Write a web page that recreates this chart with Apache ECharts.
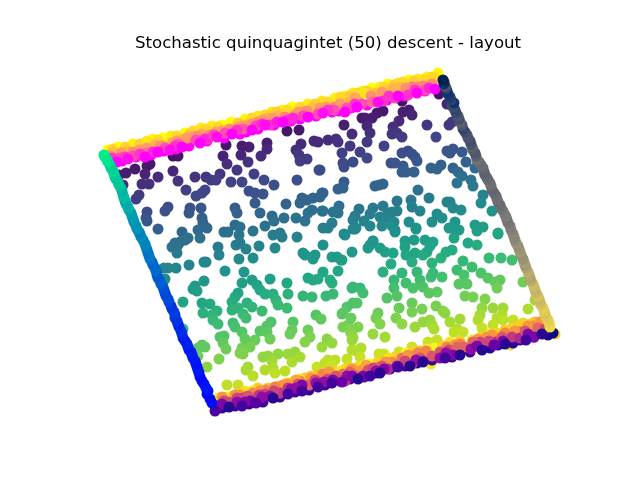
<!DOCTYPE html>
<html><head><meta charset="utf-8">
<script src="https://cdn.jsdelivr.net/npm/echarts@6/dist/echarts.min.js"></script>
<style>html,body{margin:0;padding:0;background:#fff}#c{width:640px;height:480px}</style>
</head><body><div id="c"></div>
<script>
const titleText = "Stochastic quinquagintet (50) descent - layout";
const interior = [[226,145],[242,146],[249,147],[267,143],[267,149],[261,156],[223,156],[241,155],[227,164],[248,162],[287,131],[299,130],[301,144],[296,150],[299,155],[307,159],[300,161],[314,141],[318,142],[328,140],
[173,156],[178,156],[147,166],[150,164],[135,169],[126,173],[119,175],[145,174],[158,177],[173,171],[195,177],[206,177],[220,174],[211,180],[216,180],[237,170],[254,174],[231,182],[242,182],[264,180],[274,185],[297,180],[319,170],[123,185],[142,184],[149,184],[178,181],[186,190],[196,196],[202,193],[205,190],[139,195],[136,199],[249,191],[255,193],[263,194],[255,203],[286,204],[302,198],[300,203],[313,198],[322,193],[307,200],
[168,207],[165,211],[147,212],[146,218],[147,221],[190,208],[189,213],[201,208],[235,208],[237,213],[260,213],[158,229],[202,218],[203,223],[207,228],[182,232],[198,230],[200,238],[188,238],[180,242],[175,243],[224,232],[228,232],[235,225],[240,227],[239,235],[253,231],[265,226],[272,216],[274,221],[284,218],[296,218],[305,221],[312,210],[308,213],[322,211],[273,235],[280,233],[282,237],[297,237],
[402,101],[439,94],[447,104],[383,111],[377,113],[403,112],[409,110],[412,115],[372,118],[362,118],[365,118],[367,126],[399,121],[393,127],[344,125],[427,125],[449,125],[452,122],[352,134],[370,133],[392,134],[397,133],[402,137],[436,137],[336,139],[338,142],[367,142],[350,146],[384,146],[342,153],[360,152],[402,153],[408,151],[412,154],[415,157],[417,161],[447,151],[453,149],[450,153],[462,152],[367,158],[353,162],[466,162],[343,163],[344,167],[391,163],[395,163],[403,166],[402,172],[406,172],[414,172],[431,168],[437,169],[441,165],[453,168],[458,172],[462,176],[475,168],[320,170],[471,180],[457,183],[473,186],[344,182],[338,189],[343,188],[375,186],[379,185],[383,184],[418,190],[323,193],[320,197],[429,198],[397,201],[411,200],[412,207],[447,202],[450,202],[483,195],[481,203],[339,206],[323,211],[338,213],[333,212],[359,209],[373,208],[383,206],[397,211],[420,211],[453,208],[461,210],[355,216],[370,214],[364,221],[370,226],[353,220],[332,223],[328,228],[323,228],[353,229],[356,228],[380,217],[388,213],[392,212],[387,218],[394,222],[382,226],[392,226],[395,232],[409,222],[416,228],[432,222],[437,214],[442,218],[455,222],[449,228],[459,230],[454,238],[475,225],[483,227],[477,231],[498,234],[492,211],[344,234],[373,241],[370,245],[405,241],[414,240],[425,240],[433,242],[468,243],[477,245],
[172,247],[178,245],[185,240],[177,253],[218,247],[219,255],[236,245],[240,243],[246,249],[259,246],[275,248],[239,259],[253,258],[303,253],[305,255],[315,255],[313,259],[323,245],[332,257],[337,257],[341,260],[352,252],[189,265],[204,262],[206,262],[164,268],[168,268],[176,268],[225,271],[244,272],[323,272],[338,271],[270,279],[308,278],[313,280],[318,279],[165,279],[204,281],[195,286],[193,289],[197,291],[242,283],[252,280],[257,285],[260,290],[265,294],[273,294],[287,283],[288,294],[332,283],[330,280],[352,288],[303,296],[312,297],[326,296],[333,294],[183,302],[238,293],[235,297],[232,302],[202,303],[210,304],[247,303],[252,307],[276,300],[278,305],[232,310],[238,308],[262,311],[287,308],[203,313],[217,311],[212,315],[213,320],[218,324],[243,314],[246,318],[347,307],[353,303],[342,314],[316,315],[321,319],[233,323],[235,327],[271,322],[267,326],[293,322],[260,331],[267,332],[292,330],[290,334],[308,330],[242,332],[224,336],[220,337],[245,339],[255,340],[270,339],[310,337],[305,342],[327,339],[332,343],[343,327],[348,325],[351,333],[353,338],[223,343],[226,349],[202,345],[205,347],[198,348],[250,347],[242,348],[240,353],[243,354],[322,347],[352,350],[183,329],[263,357],[268,356],[278,354],[272,361],[288,354],[295,352],[292,362],[300,357],[219,359],[198,356],[347,359],[328,360],[335,360],[325,363],[332,365],[317,367],[248,367],[246,370],[207,367],[265,370],[273,368],[275,373],[285,371],[253,376],[227,385],[238,385],
[353,287],[360,288],[363,293],[383,272],[391,264],[402,273],[417,272],[420,280],[431,277],[433,273],[442,277],[406,283],[413,288],[394,280],[394,288],[423,287],[429,293],[437,292],[387,298],[397,296],[399,308],[412,303],[412,312],[422,309],[436,306],[357,303],[343,313],[443,311],[445,313],[378,313],[376,318],[351,318],[380,324],[396,318],[402,324],[423,322],[430,320],[432,325],[434,329],[415,327],[450,322],[460,319],[457,329],[454,332],[463,332],[358,327],[350,330],[352,335],[352,340],[373,334],[385,337],[354,350],[361,348],[360,357],[379,354],[384,354],[399,352],[412,347],[428,342],[437,340],[407,353],
[457,270],[463,261],[472,267],[464,275],[481,273],[488,278],[500,280],[495,282],[497,288],[459,284],[467,284],[465,296],[473,297],[485,299],[523,282],[535,300],[482,308],[493,308],[503,308],[528,309],[480,315],[478,320],[482,328],[502,315],[497,318],[493,325],[503,320],[513,320],[523,323],
[368,248],[373,241],[380,248],[385,252],[393,253],[405,247],[406,255],[415,253],[412,262],[427,252],[423,255],[430,246],[432,263],[441,258],[446,252],[452,250],[489,258],[501,258],[512,260],[342,260],[345,235],[355,229],[395,230],[416,229],[452,228],[498,233]];
const topMagentaLow = [[113,163,0],[122,161,0],[136,157,.05],[151,155,0],[164,151,0],[176,149,0],[189,146,.03],[207,141,0],[224,138,0],[240,134,.03],[246,132,0],[258,129,0],[274,125,0],[291,121,.03],[300,119,0],[316,116,0],[332,112,0],[339,111,0],[351,108,.03],[367,105,0],[387,100,0],[405,96,.03],[425,91,0]];
const topYellow = [[108,150,1],[118,147,.98],[133,144,.95],[153,139,.97],[163,138,1],[171,136,.92],[185,133,.98],[193,131,.85],[201,128,.9],[212,126,.93],[222,125,1],[231,122,1],[245,119,.97],[258,116,.9],[272,112,.88],[282,110,.95],[292,107,1],[308,104,.93],[322,101,.88],[335,98,.95],[345,96,1],[353,93,.9],[363,91,.93],[372,88,1],[380,87,.95],[388,84,1],[398,83,.9],[409,80,1],[418,79,.92],[427,77,.95],[438,73,.97],
[113,149,.85],[125,147,.85],[140,144,.8],[147,141,.9],[158,140,.85],[177,136,.85],[190,134,.8],[206,129,.85],[218,127,.85],[238,123,.8],[252,118,.85],[265,115,.85],[277,112,.8],[287,110,.85],[300,107,.85],[315,104,.8],[328,102,.85],[340,97,.85],[349,96,.8],[358,93,.85],[367,91,.8],[384,87,.85],[394,85,.8],[403,82,.85],[414,81,.8],[424,80,.85],[432,77,.85]];
const topOrange = [[113,152,.75],[127,151,.72],[140,150,.6],[155,145,.7],[163,146,.6],[172,143,.65],[183,139,.75],[192,137,.6],[202,134,.65],[210,135,.5],[222,131,.6],[237,128,.62],[247,125,.68],[258,122,.55],[268,118,.7],[278,116,.72],[295,115,.55],[302,112,.62],[312,108,.75],[326,107,.6],[335,107,.5],[343,103,.78],[350,102,.7],[358,99,.7],[365,93,.9],[376,93,.75],[387,90,.8],[393,89,.7],[400,87,.72],[412,87,.45],[418,87,.5],[428,87,.4],[435,78,.85],
[110,155,.6],[121,153,.6],[133,152,.55],[147,148,.6],[160,146,.55],[177,141,.6],[187,138,.6],[197,136,.55],[216,132,.6],[229,129,.55],[242,126,.6],[252,124,.55],[263,120,.6],[273,118,.6],[285,117,.5],[298,112,.6],[307,111,.55],[320,108,.6],[340,104,.6],[355,98,.65],[371,96,.55],[382,92,.6],[406,88,.55],[423,86,.5],[432,84,.55]];
const topPink = [[120,158,.3],[133,156,.3],[147,153,.4],[165,148,.3],[178,144,.35],[196,140,.3],[208,139,.2],[225,133,.3],[243,129,.35],[256,126,.25],[270,125,.2],[287,120,.2],[303,116,.25],[318,114,.3],[334,110,.3],[347,108,.3],[362,104,.3],[372,102,.4],[383,101,.2],[395,98,.25],[408,95,.2],[425,90,.3],
[112,158,.2],[125,157,.2],[140,154,.2],[153,152,.15],[175,146,.2],[205,139,.15],[214,135,.25],[237,130,.2],[262,124,.15],[277,122,.1],[293,118,.15],[328,110,.2],[355,104,.2],[389,96,.2],[415,90,.2],[429,88,.15]];
const topMagenta = [[117,162,0],[128,159,.05],[145,157,0],[158,152,0],[170,150,.05],[182,147,0],[200,143,0],[217,137,.05],[232,134,0],[252,130,0],[265,125,.05],[283,122,0],[308,117,0],[323,113,.05],[345,112,0],[357,107,0],[378,102,.05],[398,96,0],[417,93,0],[435,89,0]];
const bottomStray = [[261,402,.9],[278,397,.95],[431,364,.95],[510,345,.95],[555,334,.9]];
const bottomDarkLow = [[222,408,.08],[235,406,.1],[249,404,.08],[263,402,.1],[280,397,.08],[295,392,.1],[309,390,.08],[325,385,.1],[340,381,.08],[350,379,.1],[364,377,.08],[376,373,.1],[390,369,.08],[405,366,.1],[417,363,.05],[432,360,.08],[452,357,.05],[470,352,.08],[490,348,.05],[498,345,.08],[513,343,.05],[520,340,.08],[534,337,.05],[548,335,.03]];
const bottomYellow = [[218,398,1],[232,396,.95],[245,391,.95],[258,388,.9],[278,386,.9],[294,381,1],[305,378,.85],[317,375,.85],[335,372,.9],[345,369,.9],[358,367,.9],[370,364,1],[383,361,.85],[395,357,.9],[406,353,1],[420,351,.85],[434,348,1],[443,346,.9],[450,342,.95],[472,340,.95],[497,333,.9],[511,329,.85],[522,324,.9],[535,322,.85],[549,323,.95],
[225,397,.95],[240,393,.9],[252,391,.95],[268,388,.9],[287,383,.9],[300,379,.95],[311,376,.9],[326,373,.9],[340,371,.95],[351,368,.9],[364,365,.95],[378,362,.9],[389,358,.95],[413,352,.9],[427,349,.95],[460,341,.9],[481,337,.9],[490,334,.95],[505,330,.9],[515,327,.9],[530,324,.9],[543,321,.95]];
const bottomOrange = [[240,395,.75],[253,393,.7],[266,390,.7],[283,385,.75],[300,381,.7],[311,378,.75],[323,374,.7],[343,374,.65],[362,370,.75],[378,367,.72],[392,362,.72],[402,358,.65],[414,356,.72],[426,351,.7],[447,347,.7],[460,344,.7],[487,337,.75],[505,333,.7],[520,332,.6],[533,326,.72],[545,327,.7],
[222,397,.75],[235,395,.75],[260,391,.75],[275,387,.7],[288,384,.75],[296,380,.8],[329,372,.75],[352,369,.75],[366,365,.8],[386,362,.75],[408,355,.75],[418,353,.7],[455,345,.75],[478,339,.75],[492,335,.75],[515,331,.75],[528,326,.75],[540,322,.75]];
const bottomMid = [[228,402,.5],[243,398,.45],[253,400,.4],[265,394,.5],[280,393,.45],[309,385,.6],[328,379,.5],[345,381,.45],[354,375,.6],[368,370,.55],[388,369,.4],[412,364,.5],[432,356,.55],[449,350,.5],[464,347,.6],[480,342,.5],[496,342,.4],[512,337,.45],[520,338,.4],
[224,401,.5],[237,398,.5],[248,396,.55],[259,395,.45],[274,391,.5],[288,388,.45],[298,384,.55],[315,380,.5],[336,376,.55],[350,372,.6],[373,368,.5],[382,366,.55],[405,361,.5],[420,358,.55],[440,352,.55],[457,347,.6],[473,342,.6],[489,341,.5],[502,337,.55],[525,331,.55],[538,328,.6],[545,329,.5]];
const bottomPurple = [[222,404,.25],[237,402,.3],[250,401,.2],[262,397,.3],[291,389,.3],[302,385,.25],[316,383,.3],[333,380,.25],[347,376,.3],[363,376,.25],[376,371,.3],[397,366,.3],[423,361,.35],[440,358,.3],[453,355,.25],[471,349,.3],[494,345,.2],[534,337,.25],
[218,406,.25],[245,402,.25],[270,396,.3],[296,388,.3],[324,382,.3],[352,376,.25],[384,369,.25],[416,360,.3],[446,353,.3],[477,346,.25],[503,341,.25],[528,334,.25]];
const bottomDark = [[215,411,.12],[229,407,.05],[242,406,.1],[256,403,.15],[273,398,.05],[288,394,.1],[302,391,.1],[318,387,.1],[332,383,.1],[342,382,.2],[358,379,.05],[370,376,.1],[380,373,.05],[398,367,.1],[410,366,.05],[423,362,.05],[445,358,.1],[460,355,.05],[482,350,.05],[505,344,.05],[526,340,.1],[542,334,.05],[553,333,0]];
const leftEdge = [[212,403,.05],[210,399,.04],[207,394,.03],[208,391,.06],[206,388,.1],[204,384,.08],[202,381,.06],[200,377,.03],[199,373,.04],[198,370,.08],[197,367,.1],[196,364,.06],[195,361,.07],[193,358,.1],[192,355,.08],[191,352,.12],[189,350,.1],[188,347,.1],[187,344,.15],[185,341,.12],[183,338,.1],[182,334,.15],[181,331,.18],[179,327,.16],[178,324,.13],[177,321,.2],[175,318,.2],[175,315,.2],[174,312,.25],[172,309,.23],[171,306,.2],[169,302,.25],[168,299,.28],[166,296,.3],[165,293,.25],[164,290,.3],[163,287,.32],[161,284,.35],[160,281,.38],[158,278,.36],[157,275,.34],[156,271,.4],[155,268,.42],[153,265,.4],[152,262,.4],[150,259,.45],[149,256,.48],[148,253,.45],[147,250,.45],[146,247,.5],[145,244,.52],[143,240,.5],[141,237,.55],[140,234,.52],[139,232,.5],[137,229,.58],[136,226,.6],[134,222,.56],[133,219,.58],[132,216,.62],[131,213,.62],[129,210,.65],[128,207,.7],[126,204,.68],[125,201,.66],[124,198,.72],[123,195,.75],[122,191,.7],[121,188,.72],[119,185,.78],[118,182,.8],[116,179,.76],[115,177,.78],[114,174,.82],[113,171,.85],[111,168,.8],[110,165,.82],[108,162,.88],[107,160,.9],[105,157,.9],[104,155,.92]];
const rightEdge = [[550,327,.95],[549,323,.92],[548,320,.9],[546,317,.88],[545,314,.85],[544,311,.88],[543,308,.9],[541,305,.85],[540,302,.82],[539,299,.8],[538,296,.85],[536,293,.8],[535,290,.78],[534,287,.8],[533,284,.82],[531,281,.75],[530,278,.7],[529,275,.72],[528,272,.75],[526,268,.7],[525,265,.65],[524,262,.68],[523,259,.62],[521,255,.6],[520,252,.65],[519,249,.63],[518,246,.6],[516,243,.62],[515,240,.58],[514,237,.55],[513,234,.55],[511,230,.52],[510,226,.5],[508,223,.48],[507,220,.45],[506,217,.48],[505,215,.5],[503,211,.48],[501,208,.45],[500,205,.42],[498,202,.4],[497,199,.44],[496,196,.42],[494,193,.4],[492,190,.38],[491,186,.42],[490,183,.45],[488,180,.42],[487,178,.4],[485,175,.38],[484,172,.35],[483,168,.4],[481,165,.42],[479,162,.4],[477,160,.45],[476,156,.35],[475,153,.3],[473,150,.32],[472,147,.35],[471,144,.28],[470,141,.25],[468,138,.28],[467,135,.3],[465,132,.25],[463,129,.2],[462,125,.3],[460,122,.35],[459,119,.25],[458,116,.3],[456,113,.22],[455,110,.2],[453,107,.22],[452,104,.25],[454,103,.1],[451,100,.18],[450,97,.15],[448,94,.12],[447,91,.1],[446,88,.2],[445,86,.3],[444,84,.1],[444,82,.05],[443,80,0]];
// color position of an interior point across the square, as in the source plot
const across = (x, y) => Math.max(0, Math.min(1, ((x - 105) * 77 + (y - 155) * 335) / 344 / 278));
const viridis = ["#440154","#482475","#414487","#355f8d","#2a788e","#21918c","#22a884","#44bf70","#7ad151","#bddf26","#fde725"];
const plasma = ["#0d0887","#41049d","#6a00a8","#8f0da4","#b12a90","#cc4778","#e16462","#f1844b","#fca636","#fcce25","#f0f921"];
const cividis = ["#00224e","#123570","#3b496c","#575d6d","#707173","#8a8678","#a59c74","#c3b369","#e1cc55","#fee838"];
const spring = ["#ff00ff","#ffff00"];
const winter = ["#0000ff","#00ff80"];
const maps = [viridis, spring, plasma, winter, cividis];
const sets = [
  interior.map(p => [p[0], p[1], across(p[0], p[1])]),
  [...topMagentaLow, ...topYellow, ...topOrange, ...topPink, ...topMagenta],
  [...bottomStray, ...bottomDarkLow, ...bottomYellow, ...bottomOrange, ...bottomMid, ...bottomPurple, ...bottomDark],
  leftEdge, rightEdge];
const chart = echarts.init(document.getElementById('c'), null, {renderer:'canvas'});
chart.setOption({
  animation:false, backgroundColor:'#fff',
  title:{text:titleText,left:323,top:30,textAlign:'center',textStyle:{fontFamily:'DejaVu Sans',fontSize:16.6,fontWeight:'normal',color:'#000'}},
  grid:{left:0,right:0,top:0,bottom:0},
  xAxis:{type:'value',min:0,max:640,show:false},
  yAxis:{type:'value',min:0,max:480,inverse:true,show:false},
  visualMap:maps.map((m,i)=>({show:false,min:0,max:1,dimension:2,seriesIndex:i,inRange:{color:m}})),
  series:sets.map(d=>({type:'scatter',data:d,symbolSize:11,itemStyle:{opacity:1},emphasis:{disabled:true},silent:true,large:false}))
});
</script></body></html>
